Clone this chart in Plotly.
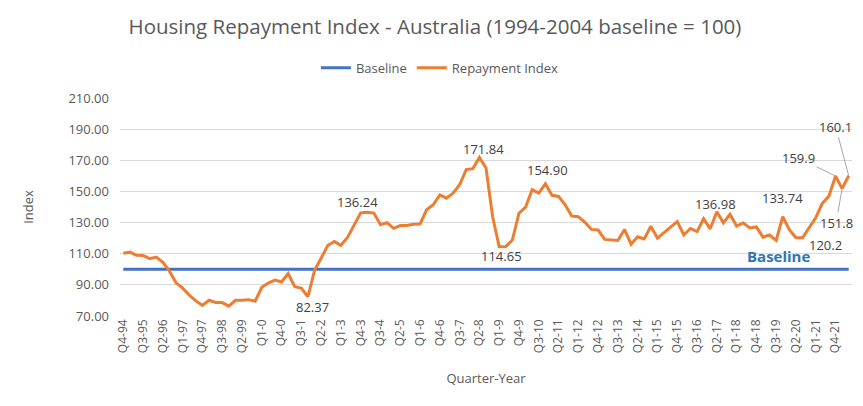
import plotly.graph_objects as go

quarters = [
    "Q4-94",
    "Q1-95", "Q2-95", "Q3-95", "Q4-95", "Q1-96", "Q2-96", "Q3-96", "Q4-96",
    "Q1-97", "Q2-97", "Q3-97", "Q4-97", "Q1-98", "Q2-98", "Q3-98", "Q4-98",
    "Q1-99", "Q2-99", "Q3-99", "Q4-99", "Q1-0", "Q2-0", "Q3-0", "Q4-0",
    "Q1-1", "Q2-1", "Q3-1", "Q4-1", "Q1-2", "Q2-2", "Q3-2", "Q4-2",
    "Q1-3", "Q2-3", "Q3-3", "Q4-3", "Q1-4", "Q2-4", "Q3-4", "Q4-4",
    "Q1-5", "Q2-5", "Q3-5", "Q4-5", "Q1-6", "Q2-6", "Q3-6", "Q4-6",
    "Q1-7", "Q2-7", "Q3-7", "Q4-7", "Q1-8", "Q2-8", "Q3-8", "Q4-8",
    "Q1-9", "Q2-9", "Q3-9", "Q4-9", "Q1-10", "Q2-10", "Q3-10", "Q4-10",
    "Q1-11", "Q2-11", "Q3-11", "Q4-11", "Q1-12", "Q2-12", "Q3-12", "Q4-12",
    "Q1-13", "Q2-13", "Q3-13", "Q4-13", "Q1-14", "Q2-14", "Q3-14", "Q4-14",
    "Q1-15", "Q2-15", "Q3-15", "Q4-15", "Q1-16", "Q2-16", "Q3-16", "Q4-16",
    "Q1-17", "Q2-17", "Q3-17", "Q4-17", "Q1-18", "Q2-18", "Q3-18", "Q4-18",
    "Q1-19", "Q2-19", "Q3-19", "Q4-19", "Q1-20", "Q2-20", "Q3-20", "Q4-20",
    "Q1-21", "Q2-21", "Q3-21", "Q4-21", "Q1-22", "Q2-22",
]

repayment_index = [
    110.3, 111.0, 109.0, 108.9, 106.8, 107.8, 104.5, 98.8, 91.3, 87.9,
    83.4, 79.7, 76.8, 80.1, 78.7, 78.6, 76.3, 80.1, 80.1, 80.5,
    79.5, 88.4, 91.2, 93.1, 91.8, 97.2, 88.8, 87.9, 82.37, 99.3,
    107.1, 115.3, 117.8, 115.4, 120.5, 128.0, 136.24, 136.6, 136.1, 128.6,
    130.0, 126.3, 128.1, 128.1, 128.9, 129.1, 138.2, 141.4, 147.8, 145.7,
    148.9, 154.3, 164.0, 164.6, 171.84, 165.1, 133.9, 114.5, 114.65, 118.8,
    136.0, 139.9, 151.1, 148.9, 154.90, 147.5, 146.8, 141.4, 134.2, 133.8,
    130.2, 125.6, 125.2, 119.2, 119.0, 118.5, 125.6, 116.1, 120.9, 119.5,
    127.6, 120.0, 123.6, 127.0, 130.6, 122.0, 126.2, 124.2, 132.4, 126.0,
    136.98, 129.8, 135.3, 127.8, 129.8, 126.6, 127.2, 120.6, 122.0, 118.6,
    133.74, 125.5, 120.3, 120.2, 127.1, 133.1, 142.4, 147.0, 159.9, 151.8,
    160.1,
]

baseline_value = 100
baseline = [baseline_value] * len(quarters)

tick_labels = quarters[::3]
y_ticks = [70, 90, 110, 130, 150, 170, 190, 210]

# labelled points: (category, text, xshift, yshift)
plain_labels = [
    ("Q4-1", "82.37", 5, -10),
    ("Q4-3", "136.24", -3, 11),
    ("Q2-8", "171.84", 4, 8),
    ("Q2-9", "114.65", -4, -10),
    ("Q4-10", "154.90", 2, 14),
    ("Q2-17", "136.98", -1, 8),
    ("Q4-19", "133.74", 0, 19),
    ("Q3-20", "120.2", 23, -7),
]
leader_labels = [
    ("Q4-21", "159.9", -37, -18),
    ("Q1-22", "151.8", -6, 34),
    ("Q2-22", "160.1", -13, -49),
]

FONT = "Open Sans"
GREY = "#595959"
ORANGE = "#ED7D31"
BLUE = "#4472C4"

fig = go.Figure()
fig.add_trace(go.Scatter(x=quarters, y=baseline, mode="lines", name="Baseline",
                         line=dict(color=BLUE, width=3)))
fig.add_trace(go.Scatter(x=quarters, y=repayment_index, mode="lines", name="Repayment Index",
                         line=dict(color=ORANGE, width=3)))

annotations = []
for cat, txt, xs, ys in plain_labels:
    annotations.append(dict(x=cat, y=repayment_index[quarters.index(cat)], text=txt,
                            showarrow=False, xshift=xs, yshift=ys,
                            font=dict(family=FONT, size=13, color="#404040")))
for cat, txt, ax, ay in leader_labels:
    annotations.append(dict(x=cat, y=repayment_index[quarters.index(cat)], text=txt,
                            showarrow=True, arrowhead=0, arrowwidth=1, arrowcolor="#A6A6A6",
                            ax=ax, ay=ay,
                            font=dict(family=FONT, size=13, color="#404040")))
annotations.append(dict(x="Q4-19", y=baseline_value, text="<b>Baseline</b>", showarrow=False,
                        xshift=-4, yshift=13,
                        font=dict(family=FONT, size=15, color="#2E75B6")))

# the page body adds an 8px offset, so the figure is sized to fit the 863x406 window
fig.update_layout(
    width=855, height=398, autosize=False,
    margin=dict(l=112, r=11, t=90, b=90, autoexpand=False),
    paper_bgcolor="white", plot_bgcolor="white",
    font=dict(family=FONT, color=GREY, size=12),
    title=dict(text="Housing Repayment Index - Australia (1994-2004 baseline = 100)",
               x=0.4994, xanchor="center", xref="container",
               y=0.952, yanchor="middle", yref="container",
               font=dict(family=FONT, size=20.5, color=GREY)),
    legend=dict(orientation="h", x=0.437, xanchor="center",
                y=1.139, yanchor="middle", font=dict(size=13, color=GREY)),
    showlegend=True,
    annotations=annotations,
    xaxis=dict(type="category", range=[-0.5, len(quarters) - 0.5],
               tickmode="array", tickvals=tick_labels, ticktext=tick_labels,
               tickangle=-90, tickfont=dict(size=12, color=GREY),
               showgrid=False, showline=False, zeroline=False,
               title=dict(text="Quarter-Year", font=dict(size=13, color=GREY), standoff=21)),
    yaxis=dict(range=[70, 210], tickmode="array", tickvals=y_ticks,
               ticktext=[f"{v:.2f}" for v in y_ticks],
               tickfont=dict(size=13, color=GREY),
               showgrid=True, gridcolor="#D9D9D9", gridwidth=1, zeroline=False,
               showline=False, ticklabelstandoff=10,
               title=dict(text="Index", font=dict(size=13, color=GREY), standoff=31)),
)

fig.write_html("out.html")
